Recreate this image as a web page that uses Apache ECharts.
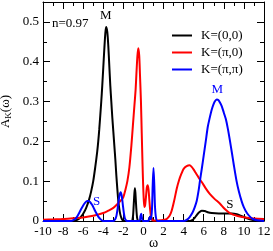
<!DOCTYPE html>
<html><head><meta charset="utf-8">
<script src="https://cdn.jsdelivr.net/npm/echarts@6/dist/echarts.min.js"></script>
<style>html,body{margin:0;padding:0;background:#fff}#c{width:273px;height:251px}</style>
</head><body><div id="c"></div>
<script>
const seriesNames = ['K=(0,0)', 'K=(\u03c0,0)', 'K=(\u03c0,\u03c0)'];
const seriesColors = ['#000000', '#ff0000', '#0000ff'];
const k00 = [[-10,0],[-8,0],[-7,0],[-6.6,0.003],[-6.3,0.008],[-6.0,0.018],[-5.7,0.033],[-5.4,0.055],[-5.2,0.075],[-5.0,0.1],[-4.8,0.135],[-4.6,0.175],[-4.5,0.2],[-4.4,0.23],[-4.2,0.3],[-4.1,0.34],[-4.0,0.385],[-3.9,0.43],[-3.8,0.47],[-3.72,0.487],[-3.6,0.475],[-3.5,0.44],[-3.4,0.39],[-3.3,0.34],[-3.2,0.3],[-3.1,0.26],[-3.0,0.225],[-2.9,0.19],[-2.8,0.155],[-2.7,0.115],[-2.6,0.08],[-2.5,0.05],[-2.4,0.03],[-2.3,0.016],[-2.2,0.008],[-2.1,0.003],[-2.0,0.001],[-1.6,0],[-1.2,0],[-1.05,0.01],[-0.97,0.04],[-0.9,0.07],[-0.85,0.082],[-0.8,0.07],[-0.72,0.035],[-0.63,0.008],[-0.5,0],[0.45,0],[0.6,0.008],[0.72,0.012],[0.85,0.004],[1.0,0],[4.6,0],[4.9,0.003],[5.1,0.008],[5.3,0.015],[5.5,0.021],[5.8,0.026],[6.1,0.025],[6.4,0.022],[6.8,0.02],[7.5,0.019],[8.2,0.019],[8.8,0.019],[9.3,0.017],[9.8,0.012],[10.3,0.007],[10.8,0.003],[11.3,0.001],[12,0]];
const kp0 = [[-10,0.003],[-9,0.004],[-8,0.005],[-7,0.007],[-6,0.009],[-5,0.013],[-4,0.02],[-3.5,0.026],[-3,0.033],[-2.5,0.045],[-2.2,0.053],[-2,0.06],[-1.8,0.078],[-1.6,0.1],[-1.4,0.135],[-1.2,0.19],[-1.05,0.24],[-0.9,0.29],[-0.78,0.33],[-0.7,0.37],[-0.6,0.415],[-0.51,0.434],[-0.42,0.415],[-0.35,0.37],[-0.25,0.3],[-0.17,0.22],[-0.1,0.15],[-0.03,0.09],[0.04,0.05],[0.1,0.035],[0.17,0.04],[0.25,0.06],[0.33,0.083],[0.42,0.09],[0.5,0.08],[0.58,0.055],[0.66,0.03],[0.75,0.012],[0.85,0.004],[1.0,0.001],[1.8,0.002],[2.3,0.005],[2.6,0.013],[2.8,0.025],[3.05,0.05],[3.3,0.08],[3.55,0.103],[3.8,0.12],[4.0,0.131],[4.3,0.138],[4.6,0.14],[4.8,0.136],[5.0,0.129],[5.2,0.121],[5.4,0.113],[5.6,0.105],[5.8,0.098],[6.2,0.082],[6.6,0.068],[7.1,0.055],[7.6,0.044],[8.1,0.03],[8.6,0.02],[9.3,0.013],[10.3,0.008],[11,0.006],[12,0.005]];
const kpp = [[-10,0],[-7.2,0],[-7.0,0.002],[-6.8,0.005],[-6.6,0.011],[-6.4,0.02],[-6.2,0.03],[-6.0,0.039],[-5.8,0.046],[-5.6,0.05],[-5.45,0.05],[-5.3,0.047],[-5.1,0.04],[-4.9,0.03],[-4.7,0.02],[-4.5,0.011],[-4.3,0.005],[-4.1,0.001],[-3.9,0],[-3.0,0],[-2.85,0.003],[-2.7,0.012],[-2.55,0.035],[-2.4,0.062],[-2.27,0.072],[-2.15,0.062],[-2.05,0.04],[-1.95,0.02],[-1.85,0.007],[-1.7,0.001],[-1.5,0],[-0.4,0],[-0.3,0.012],[-0.22,0.018],[-0.15,0.008],[-0.05,0],[0.5,0],[0.6,0.008],[0.68,0.01],[0.75,0.004],[0.85,0.03],[0.92,0.09],[1.0,0.133],[1.08,0.09],[1.15,0.035],[1.25,0.008],[1.4,0],[4.0,0],[4.3,0.003],[4.6,0.01],[4.9,0.022],[5.1,0.034],[5.3,0.05],[5.5,0.078],[5.62,0.1],[5.8,0.13],[6.0,0.165],[6.2,0.2],[6.4,0.236],[6.55,0.254],[6.8,0.28],[7.0,0.295],[7.15,0.302],[7.3,0.305],[7.45,0.304],[7.6,0.298],[7.8,0.288],[8.0,0.272],[8.2,0.256],[8.4,0.232],[8.6,0.203],[8.8,0.172],[9.0,0.14],[9.27,0.1],[9.5,0.074],[9.77,0.05],[10.0,0.034],[10.3,0.02],[10.6,0.011],[10.9,0.005],[11.3,0.002],[12,0]];
const seriesData = [k00, kp0, kpp];
const annoTexts = ['n=0.97', 'M', 'M', 'S', 'S'];
const annoPos = [[-9.1,0.495],[-3.75,0.515],[7.34,0.329],[-4.66,0.048],[8.6,0.04]];
const annoColors = ['#000','#000','#0000ff','#0000ff','#000'];
const annoAlign = ['left','center','center','center','center'];

const FONT = 'Liberation Serif';
const chart = echarts.init(document.getElementById('c'), null, {renderer:'canvas'});
const axisCommon = {
  min: -10, max: 12, interval: 2,
  axisLine: {onZero:false, lineStyle:{color:'#000', width:1}},
  axisTick: {inside:true, length:7, lineStyle:{color:'#000'}},
  minorTick: {show:true, splitNumber:2, length:4, lineStyle:{color:'#000'}},
  splitLine: {show:false}
};
const yCommon = {
  min: 0, max: 0.55, interval: 0.1,
  axisLine: {show:true, onZero:false, lineStyle:{color:'#000', width:1}},
  axisTick: {inside:true, length:7, lineStyle:{color:'#000'}},
  minorTick: {show:true, splitNumber:2, length:4, lineStyle:{color:'#000'}},
  splitLine: {show:false}
};
chart.setOption({
  animation: false,
  textStyle: {fontFamily: FONT},
  grid: {left:43, right:9, top:2, bottom:30, containLabel:false, outerBoundsMode:'none'},
  legend: {
    data: seriesNames, orient:'vertical', left:167, top:24, icon:'rect',
    itemWidth:20, itemHeight:2, itemGap:4,
    textStyle:{fontFamily:FONT, fontSize:13, color:'#000', padding:[0,0,0,4]}
  },
  xAxis: [
    Object.assign({type:'value', position:'bottom', name:'\u03c9', nameLocation:'middle', nameGap:22, nameMoveOverlap:false,
      nameTextStyle:{fontFamily:FONT, fontSize:14, color:'#000', verticalAlign:'middle'},
      axisLabel:{fontFamily:FONT, fontSize:13, color:'#000', margin:4}}, axisCommon),
    Object.assign({type:'value', position:'top', axisLabel:{show:false}}, axisCommon)
  ],
  yAxis: [
    Object.assign({type:'value', position:'left', name:'{a|A}{s|K}{a|(\u03c9)}', nameLocation:'middle', nameGap:30, nameMoveOverlap:false,
      nameTextStyle:{rich:{a:{fontFamily:FONT, fontSize:13, color:'#000'}, s:{fontFamily:FONT, fontSize:9, color:'#000', verticalAlign:'bottom', padding:[6,0,0,0]}}},
      axisLabel:{fontFamily:FONT, fontSize:13, color:'#000', margin:4, showMaxLabel:false,
        formatter: v => (Math.round(v*100)/100).toString()}}, yCommon),
    Object.assign({type:'value', position:'right', axisLabel:{show:false}}, yCommon)
  ],
  series: seriesData.map((d,i) => ({
    name: seriesNames[i], type:'line', data:d, xAxisIndex:0, yAxisIndex:0,
    showSymbol:false, smooth:0.25,
    lineStyle:{color:seriesColors[i], width:2}, itemStyle:{color:seriesColors[i]}
  }))
});
const g = annoTexts.map((t,i) => {
  const p = chart.convertToPixel({xAxisIndex:0, yAxisIndex:0}, annoPos[i]);
  return {type:'text', x:p[0], y:p[1], style:{text:t, fill:annoColors[i], font:'13px "Liberation Serif"', textAlign:annoAlign[i], textVerticalAlign:'middle'}};
});
chart.setOption({graphic: g});
</script></body></html>
